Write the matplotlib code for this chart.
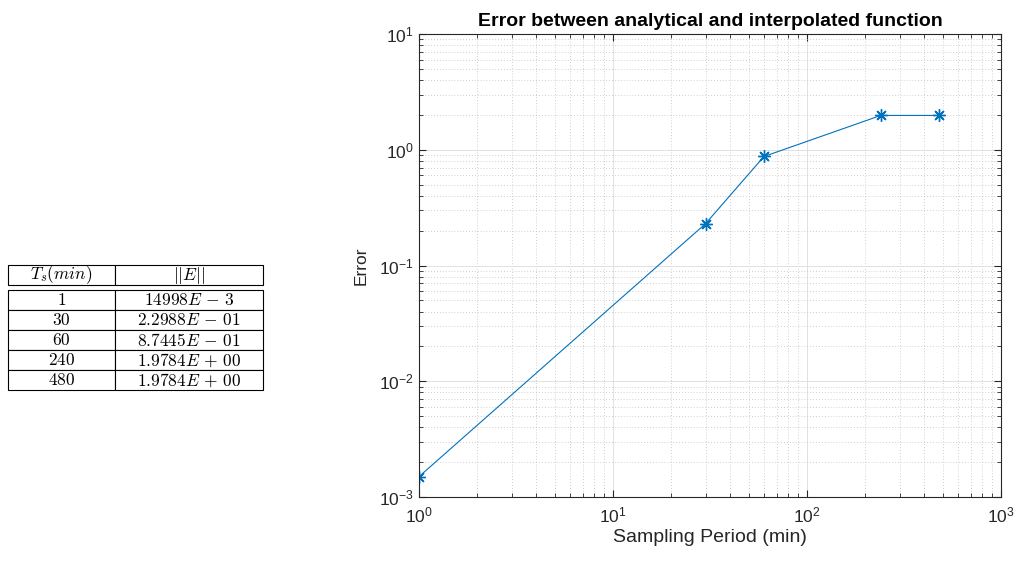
import matplotlib.pyplot as plt
import matplotlib.ticker as mticker

# Data
ts = [1, 30, 60, 240, 480]
err = [1.4998e-3, 0.22988, 0.87445, 1.9784, 1.9784]
ts_labels = [r"$1$", r"$30$", r"$60$", r"$240$", r"$480$"]
err_labels = [r"$14998E\,-\,3$", r"$2.2988E\,-\,01$", r"$8.7445E\,-\,01$",
              r"$1.9784E\,+\,00$", r"$1.9784E\,+\,00$"]
headers = [r"$T_s(min)$", r"$||E||$"]

plt.rcParams["font.family"] = ["Liberation Sans", "DejaVu Sans"]
plt.rcParams["mathtext.fontset"] = "cm"

W, H = 1020, 563
fig = plt.figure(figsize=(W / 100, H / 100), dpi=100)

# ---------- main plot ----------
ax = fig.add_axes([419 / W, 1 - 497 / H, 582 / W, 463 / H])
blue = "#0072BD"
ax.plot(ts, err, color=blue, linewidth=0.8, marker=(8, 2, 0), markersize=9,
        markeredgewidth=1.0)
ax.set_xscale("log")
ax.set_yscale("log")
ax.set_xlim(1, 1000)
ax.set_ylim(1e-3, 10)

ax.xaxis.set_minor_locator(mticker.LogLocator(base=10, subs=range(2, 10), numticks=20))
ax.yaxis.set_minor_locator(mticker.LogLocator(base=10, subs=range(2, 10), numticks=20))
ax.xaxis.set_minor_formatter(mticker.NullFormatter())
ax.yaxis.set_minor_formatter(mticker.NullFormatter())

ax.grid(True, which="major", color="#dcdcdc", linewidth=0.6, linestyle="-")
ax.grid(True, which="minor", color="#c0c0c0", linewidth=0.6, linestyle=(0, (1, 2.5)))
ax.set_axisbelow(True)

dark = "#262626"
for s in ax.spines.values():
    s.set_color(dark)
    s.set_linewidth(0.8)
ax.tick_params(which="both", direction="in", top=True, right=True,
               colors=dark, labelsize=12.5)
ax.tick_params(which="major", length=5)
ax.tick_params(which="minor", length=3)
ax.tick_params(axis="x", pad=6)

ax.set_title("Error between analytical and interpolated function",
             fontsize=14, fontweight="bold", color="black", pad=6)
ax.set_xlabel("Sampling Period (min)", fontsize=14, color=dark, labelpad=3)
ax.set_ylabel("Error", fontsize=12.5, color=dark, labelpad=8)

# ---------- table ----------
tax = fig.add_axes([0, 0, 1, 1])
tax.axis("off")
x0, x1 = 8 / W, 263 / W
col_w = [(115 - 8) / (263 - 8), (263 - 115) / (263 - 8)]

head = tax.table(cellText=[headers], colWidths=col_w, cellLoc="center",
                 bbox=[x0, 1 - 285 / H, x1 - x0, 20 / H])
body = tax.table(cellText=[[t, e] for t, e in zip(ts_labels, err_labels)],
                 colWidths=col_w, cellLoc="center",
                 bbox=[x0, 1 - 390 / H, x1 - x0, 100 / H])
for tb in (head, body):
    tb.auto_set_font_size(False)
    for cell in tb.get_celld().values():
        cell.set_linewidth(0.8)
        cell.set_edgecolor("black")
        cell.get_text().set_fontsize(12.5)

fig.savefig("out.png", dpi=100)
